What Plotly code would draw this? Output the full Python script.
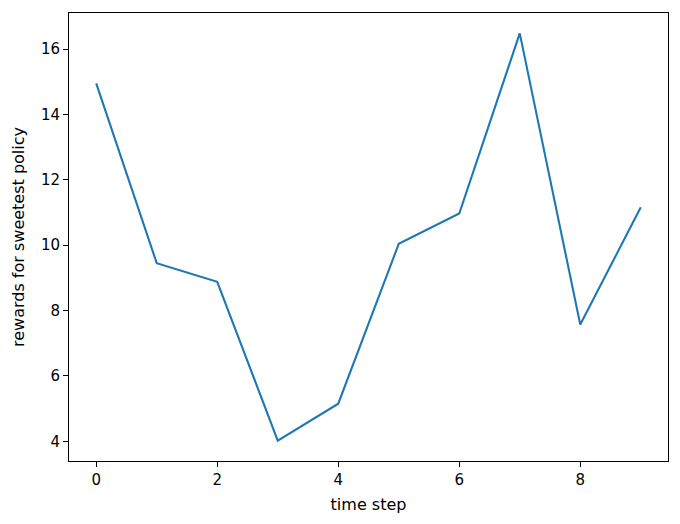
import plotly.graph_objects as go

time_step = [0, 1, 2, 3, 4, 5, 6, 7, 8, 9]
rewards = [14.95, 9.45, 8.88, 4.02, 5.15, 10.04, 10.97, 16.48, 7.57, 11.16]

fig = go.Figure(go.Scatter(x=time_step, y=rewards, mode="lines",
                           line=dict(color="#1f77b4", width=2.1)))

axis_common = dict(showgrid=False, zeroline=False, showline=True, linecolor="black",
                   linewidth=1, mirror=True, ticks="outside", ticklen=5, tickwidth=1,
                   tickcolor="black", tickfont=dict(size=15, color="black"),
                   automargin=False)

ymin, ymax = min(rewards), max(rewards)
pad = 0.05 * (ymax - ymin)
# page body has an 8px margin; figure sized to fit the window
fig.update_layout(
    width=664, height=508,
    margin=dict(l=61, r=4, t=5, b=55),
    plot_bgcolor="white", paper_bgcolor="white",
    font=dict(family="DejaVu Sans", size=15, color="black"),
    showlegend=False,
    xaxis=dict(range=[-0.45, 9.45], tickvals=[0, 2, 4, 6, 8],
               title=dict(text="time step", font=dict(size=16), standoff=10), **axis_common),
    yaxis=dict(range=[ymin - pad, ymax + pad], tickvals=[4, 6, 8, 10, 12, 14, 16],
               title=dict(text="rewards for sweetest policy", font=dict(size=16), standoff=12),
               **axis_common),
)

fig.write_html("out.html")
